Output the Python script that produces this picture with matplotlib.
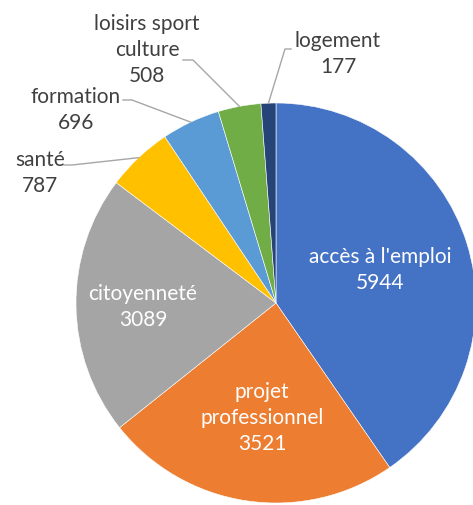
import numpy as np
import matplotlib
matplotlib.use("Agg")
import matplotlib.pyplot as plt

categories = ["accès à l'emploi", "projet\nprofessionnel", "citoyenneté", "santé",
              "formation", "loisirs sport\nculture", "logement"]
values = [5944, 3521, 3089, 787, 696, 508, 177]
colors = ["#4472C4", "#ED7D31", "#A5A5A5", "#FFC000", "#5B9BD5", "#70AD47", "#264478"]

plt.rcParams['font.family'] = ['Lato', 'DejaVu Sans']

W, H = 473, 505
fig = plt.figure(figsize=(W / 100, H / 100), dpi=100)
cx, cy, R = 276, 303, 200
ax = fig.add_axes([(cx - R) / W, (H - cy - R) / H, 2 * R / W, 2 * R / H])

wedges, _ = ax.pie(values, colors=colors, startangle=90, counterclock=False, radius=1,
                   wedgeprops=dict(linewidth=0.4, edgecolor='white'))
ax.set_xlim(-1, 1)
ax.set_ylim(-1, 1)
ax.axis('off')
for w in wedges:
    w.set_clip_on(False)

fs = 15
ls = 1.4
txt_dark = "#404040"
# inside labels
inside_pos = {0: (0.52, 0.165), 1: (-0.07, -0.575), 2: (-0.665, -0.02)}
for i, (x, y) in inside_pos.items():
    ax.text(x, y, f"{categories[i]}\n{values[i]}", ha='center', va='center',
            color='white', fontsize=fs, linespacing=ls)

# outside labels with leader lines
outside = {
    6: ((0.31, 1.245), [(0.075, 1.27), (0.045, 1.27)]),
    5: ((-0.645, 1.265), [(-0.465, 1.215), (-0.415, 1.215)]),
    4: ((-1.0, 0.965), [(-0.765, 1.015), (-0.72, 1.015)]),
    3: ((-1.18, 0.65), [(-1.06, 0.69), (-1.02, 0.69)]),
}
for i, ((x, y), pts) in outside.items():
    w = wedges[i]
    mid = np.deg2rad((w.theta1 + w.theta2) / 2)
    end = (np.cos(mid), np.sin(mid))
    xs = [p[0] for p in pts] + [end[0]]
    ys = [p[1] for p in pts] + [end[1]]
    ax.plot(xs, ys, color="#A6A6A6", lw=1.0, clip_on=False)
    ax.text(x, y, f"{categories[i]}\n{values[i]}", ha='center', va='center',
            color=txt_dark, fontsize=fs, linespacing=ls, clip_on=False)

fig.savefig("out.png", dpi=100, facecolor='white')
